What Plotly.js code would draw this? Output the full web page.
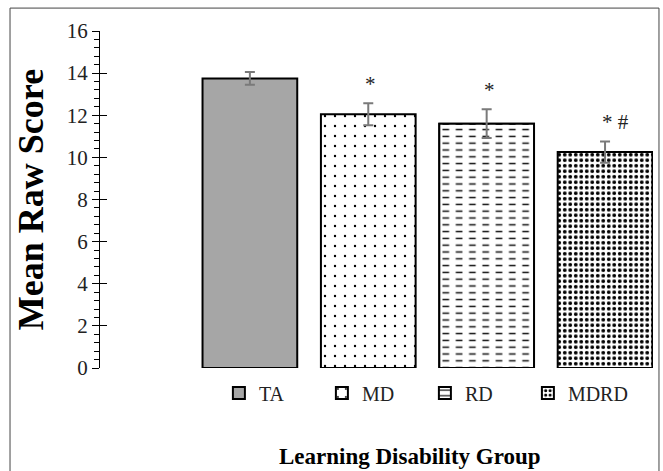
<!DOCTYPE html>
<html>
<head>
<meta charset="utf-8">
<script src="https://cdn.plot.ly/plotly-3.0.1.min.js"></script>
<style>
  html, body { margin: 0; padding: 0; background: #fff; }
  #chart { width: 663px; height: 471px; }
</style>
</head>
<body>
<div id="chart"></div>
<script>
// Learning disability groups and their mean raw scores (± standard error)
const groups = ['TA', 'MD', 'RD', 'MDRD'];
const meanScores = [13.75, 12.05, 11.6, 10.25];
const stdErrors = [0.3, 0.52, 0.68, 0.5];
// significance markers above each bar
const sigMarks = ['', '*', '*', '* #'];
const yTicks = [0, 2, 4, 6, 8, 10, 12, 14, 16];

const SERIF = 'Liberation Serif, Times New Roman, serif';
const BAR_W = 0.8;
const errStyle = { type: 'data', visible: true, color: '#7a7a7a', thickness: 2, width: 5 };
const outline = { color: '#000', width: 2 };

function barTrace(i, extra) {
  return Object.assign({
    type: 'bar',
    x: [groups[i]],
    y: [meanScores[i]],
    name: groups[i],
    width: BAR_W,
    hoverinfo: 'skip',
    error_y: Object.assign({ array: [stdErrors[i]] }, errStyle)
  }, extra);
}

const traces = [
  // TA: solid grey
  barTrace(0, { marker: { color: '#a6a6a6', line: outline } }),
  // MD: sparse dots
  barTrace(1, { marker: { color: '#fff', line: outline,
    pattern: { shape: '.', fgcolor: '#000', bgcolor: '#fff', size: 10, solidity: 0.045 } } }),
  // RD: horizontal rules, broken into dashes by the white stripes below
  barTrace(2, { error_y: { visible: false }, marker: { color: '#fff', line: outline,
    pattern: { shape: '-', fgcolor: '#111', bgcolor: '#fff', size: 6.8, solidity: 0.22 } } }),
  barTrace(2, { showlegend: false, error_y: { visible: false }, marker: { color: 'rgba(0,0,0,0)',
    line: { width: 0 },
    pattern: { shape: '|', fgcolor: '#fff', bgcolor: 'rgba(0,0,0,0)', size: 13.3, solidity: 0.5 } } }),
  barTrace(2, { showlegend: false, marker: { color: 'rgba(0,0,0,0)', line: outline } }),
  // MDRD: dense speckle
  barTrace(3, { marker: { color: '#fff', line: outline,
    pattern: { shape: '.', fgcolor: '#000', bgcolor: '#fff', size: 5.5, solidity: 0.38 } } })
];

// significance markers sit a fixed distance above each error bar
const annotations = groups.map((g, i) => ({
  x: g, xref: 'x', yref: 'y',
  y: meanScores[i] + stdErrors[i] + 0.25,
  text: sigMarks[i],
  showarrow: false,
  xanchor: 'left', xshift: -5,
  yanchor: 'bottom',
  font: { family: SERIF, size: 21, color: '#222' }
})).filter(a => a.text);

annotations.push({
  text: '<b>Learning Disability Group</b>',
  xref: 'paper', yref: 'paper', x: 0.56, y: -0.262,
  xanchor: 'center', yanchor: 'middle', showarrow: false,
  font: { family: SERIF, size: 23, color: '#000' }
});

const layout = {
  width: 663, height: 471,
  margin: { l: 100, r: 10, t: 31, b: 103 },
  paper_bgcolor: '#fff', plot_bgcolor: '#fff',
  barmode: 'overlay',
  showlegend: true,
  legend: {
    orientation: 'h', x: 0.215, xanchor: 'left', y: -0.074, yanchor: 'middle',
    entrywidth: 58, traceorder: 'normal',
    font: { family: SERIF, size: 20, color: '#222' }
  },
  xaxis: {
    type: 'category', categoryorder: 'array', categoryarray: groups,
    range: [-1.266, 3.405],
    showticklabels: false, ticks: '', showline: false, showgrid: false, zeroline: false,
    fixedrange: true
  },
  yaxis: {
    range: [0, 16], tickvals: yTicks, ticktext: yTicks.map(String),
    ticks: 'outside', ticklen: 7, tickwidth: 1, tickcolor: '#000',
    minor: { dtick: 0.4, ticks: 'outside', ticklen: 5, tickwidth: 1, tickcolor: '#000', showgrid: false },
    showline: true, linecolor: '#000', linewidth: 1,
    showgrid: false, zeroline: false, automargin: false,
    tickfont: { family: SERIF, size: 21, color: '#222' },
    title: { text: '<b>Mean Raw Score</b>', standoff: 12,
             font: { family: SERIF, size: 36, color: '#000' } }
  },
  // companion axis that draws the inner half of each major tick
  yaxis2: {
    overlaying: 'y', side: 'left', range: [0, 16], tickvals: yTicks,
    ticks: 'inside', ticklen: 7, tickwidth: 1, tickcolor: '#000',
    showticklabels: false, showline: false, showgrid: false, zeroline: false
  },
  annotations: annotations,
  shapes: [{
    type: 'rect', xref: 'paper', yref: 'paper',
    x0: -0.1627, x1: 1.0108, y0: -0.34, y1: 1.068,
    line: { color: '#444', width: 1 }, fillcolor: 'rgba(0,0,0,0)', layer: 'below'
  }]
};

// an empty trace keeps the companion axis drawn
traces.push({ type: 'scatter', x: [], y: [], yaxis: 'y2', showlegend: false, hoverinfo: 'skip' });

Plotly.newPlot('chart', traces, layout, { staticPlot: true, displayModeBar: false });
</script>
</body>
</html>
